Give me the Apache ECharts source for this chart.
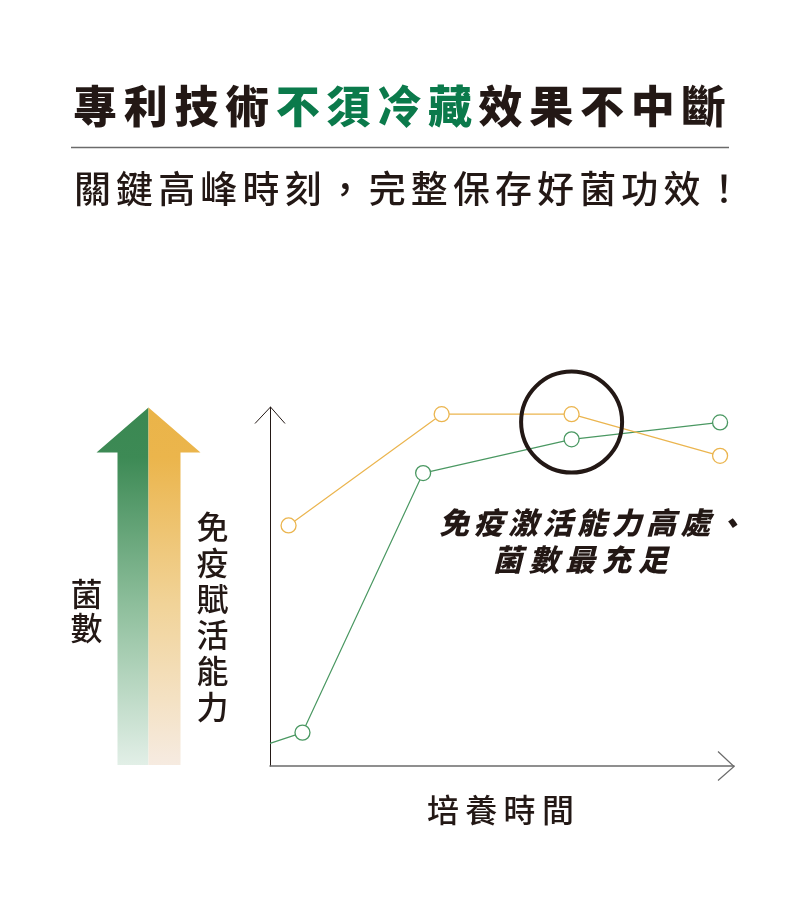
<!DOCTYPE html>
<html lang="zh-Hant">
<head>
<meta charset="utf-8">
<title>專利技術不須冷藏效果不中斷</title>
<script src="https://cdn.jsdelivr.net/npm/echarts@6/dist/echarts.min.js"></script>
<style>
  html, body { margin: 0; padding: 0; background: #ffffff; }
  #chart { width: 801px; height: 921px; }
</style>
</head>
<body>
<div id="chart"></div>
<script>
// ---- text content ----
const titleText = '專利技術不須冷藏效果不中斷';
const titleAccentRange = [4, 7];            // "不須冷藏" in green
const subtitleText = '關鍵高峰時刻，完整保存好菌功效！';
const calloutLines = ['免疫激活能力高處、', '菌數最充足'];
const leftArrowLabel = '菌數';
const rightArrowLabel = '免疫賦活能力';
const timeAxisLabel = '培養時間';

// ---- series values: [culture time, relative level] ----
const bacteriaCount = [[0, 6.3], [7, 9.3], [33, 81.6], [65, 91.0], [97, 95.7]];
const immuneActivity = [[4, 67.0], [37, 98.0], [65, 98.0], [97, 86.4]];
const peakPoint = [65, 95.8];

// ---- palette / fonts ----
const INK = '#231815';
const GREEN = '#4a9862';
const ORANGE = '#ebb54f';
const TITLE_GREEN = '#0b7a4b';
const FONT = '"Noto Sans CJK TC", "Noto Sans CJK SC", sans-serif';

// plot area
const GRID = { left: 270, top: 407, right: 67, bottom: 155 };
const W = 801, H = 921;
const plotRight = W - GRID.right;
const plotBottom = H - GRID.bottom;

// lay characters out one by one on a fixed pitch
function charRow(text, cx0, cy, pitch, font, colorAt, vertical) {
  return Array.from(text).map(function (ch, i) {
    return {
      type: 'text',
      silent: true,
      style: {
        text: ch,
        x: vertical ? cx0 : cx0 + i * pitch,
        y: vertical ? cy + i * pitch : cy,
        font: font,
        fill: colorAt(i),
        align: 'center',
        verticalAlign: 'middle',
        textAlign: 'center',
        textVerticalAlign: 'middle'
      }
    };
  });
}

const graphics = [];

// headline
graphics.push.apply(graphics, charRow(titleText, 95, 106, 50.7,
  '900 44px ' + FONT,
  function (i) { return (i >= titleAccentRange[0] && i <= titleAccentRange[1]) ? TITLE_GREEN : INK; }));

// divider
graphics.push({
  type: 'line', silent: true,
  shape: { x1: 71, y1: 147.5, x2: 729, y2: 147.5 },
  style: { stroke: '#6b6b6b', lineWidth: 1.5 }
});

// sub headline
graphics.push.apply(graphics, charRow(subtitleText, 92.5, 189, 42.1,
  '500 37px ' + FONT, function () { return INK; }));

// double gradient arrow
const arrowTip = [148.5, 407.5];
const headY = 452.5, shaftBottom = 765;
graphics.push({
  type: 'polygon', silent: true,
  shape: { points: [arrowTip, [96.5, headY], [117.5, headY], [117.5, shaftBottom], [148.5, shaftBottom]] },
  style: {
    fill: new echarts.graphic.LinearGradient(0, 0, 0, 1, [
      { offset: 0, color: '#3a8852' },
      { offset: 0.14, color: '#3d8a55' },
      { offset: 0.55, color: '#8dbe9b' },
      { offset: 1, color: '#e2efe7' }
    ])
  }
});
graphics.push({
  type: 'polygon', silent: true,
  shape: { points: [arrowTip, [200.5, headY], [180.5, headY], [180.5, shaftBottom], [148.5, shaftBottom]] },
  style: {
    fill: new echarts.graphic.LinearGradient(0, 0, 0, 1, [
      { offset: 0, color: '#eab449' },
      { offset: 0.14, color: '#ebb54c' },
      { offset: 0.55, color: '#f1d398' },
      { offset: 1, color: '#f6ebe1' }
    ])
  }
});

// vertical labels beside the arrow
graphics.push.apply(graphics, charRow(leftArrowLabel, 86.5, 594, 34,
  '500 32px ' + FONT, function () { return INK; }, true));
graphics.push.apply(graphics, charRow(rightArrowLabel, 212.5, 527, 36,
  '500 32px ' + FONT, function () { return INK; }, true));

// axis arrow heads
graphics.push({
  type: 'polyline', silent: true,
  shape: { points: [[GRID.left - 15, GRID.top + 16.5], [GRID.left + 0.5, GRID.top], [GRID.left + 15, GRID.top + 16.5]] },
  style: { stroke: INK, lineWidth: 1, fill: null }
});
graphics.push({
  type: 'polyline', silent: true,
  shape: { points: [[plotRight - 16, plotBottom - 14.5], [plotRight, plotBottom + 0.5], [plotRight - 16, plotBottom + 14.5]] },
  style: { stroke: '#6b6b6b', lineWidth: 1.2, fill: null }
});

// horizontal axis caption
graphics.push.apply(graphics, charRow(timeAxisLabel, 443, 810, 38.3,
  '500 32px ' + FONT, function () { return INK; }));

// callout
graphics.push.apply(graphics, charRow(calloutLines[0], 454, 522.5, 34.5,
  'italic 900 30px ' + FONT, function () { return INK; }));
graphics.push.apply(graphics, charRow(calloutLines[1], 507.5, 560, 36.3,
  'italic 900 30px ' + FONT, function () { return INK; }));

const chart = echarts.init(document.getElementById('chart'), null, { renderer: 'canvas' });

function markerSeries(name, data, color, extra) {
  return Object.assign({
    name: name,
    type: 'line',
    data: data,
    symbol: 'circle',
    symbolSize: 15,
    showSymbol: true,
    silent: true,
    lineStyle: { color: color, width: 1.2 },
    itemStyle: { color: '#ffffff', borderColor: color, borderWidth: 1.3 },
    emphasis: { disabled: true },
    z: 3
  }, extra || {});
}

chart.setOption({
  animation: false,
  backgroundColor: '#ffffff',
  grid: { left: GRID.left, top: GRID.top, right: GRID.right, bottom: GRID.bottom, containLabel: false },
  xAxis: {
    type: 'value', min: 0, max: 100,
    axisLine: { show: true, lineStyle: { color: '#6b6b6b', width: 1.5 } },
    axisTick: { show: false }, axisLabel: { show: false }, splitLine: { show: false }
  },
  yAxis: {
    type: 'value', min: 0, max: 100,
    axisLine: { show: true, onZero: false, lineStyle: { color: INK, width: 1 } },
    axisTick: { show: false }, axisLabel: { show: false }, splitLine: { show: false }
  },
  graphic: graphics,
  series: [
    markerSeries('菌數', bacteriaCount.map(function (p, i) {
      return i === 0 ? { value: p, symbol: 'none' } : { value: p };
    }), GREEN),
    markerSeries('免疫賦活能力', immuneActivity, ORANGE, {
      markPoint: {
        silent: true,
        symbol: 'circle',
        symbolSize: 101,
        label: { show: false },
        itemStyle: { color: 'rgba(0,0,0,0)', borderColor: INK, borderWidth: 4 },
        data: [{ coord: peakPoint }]
      }
    })
  ]
});
</script>
</body>
</html>
